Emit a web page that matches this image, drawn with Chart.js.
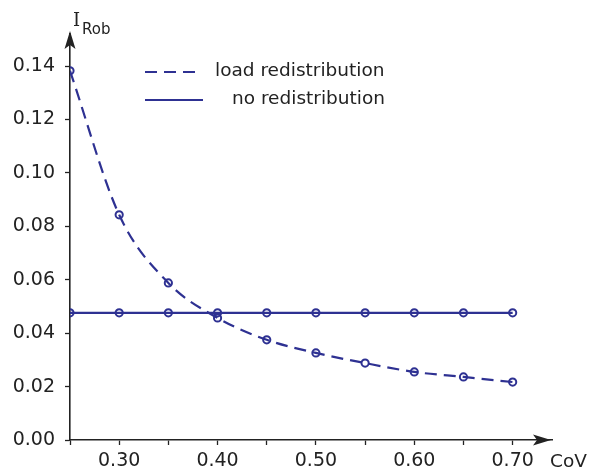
<!DOCTYPE html>
<html>
<head>
<meta charset="utf-8">
<script src="https://cdn.jsdelivr.net/npm/chart.js@4.4.1/dist/chart.umd.min.js"></script>
<style>
  html, body { margin: 0; padding: 0; background: #fff; }
  #wrap { width: 589px; height: 470px; position: relative; }
</style>
</head>
<body>
<div id="wrap"><canvas id="robChart"></canvas></div>
<script>
const covValues = [0.25, 0.30, 0.35, 0.40, 0.45, 0.50, 0.55, 0.60, 0.65, 0.70];
const loadRedistribution = [0.1382, 0.0843, 0.0588, 0.0457, 0.0375, 0.0326, 0.0288, 0.0255, 0.0236, 0.0217];
const noRedistribution = [0.0476, 0.0476, 0.0476, 0.0476, 0.0476, 0.0476, 0.0476, 0.0476, 0.0476, 0.0476];
const seriesLabels = ["load redistribution", "no redistribution"];
const xTicks = [0.25, 0.30, 0.35, 0.40, 0.45, 0.50, 0.55, 0.60, 0.65, 0.70];
const xLabelled = [0.30, 0.40, 0.50, 0.60, 0.70];
const yTicks = [0.00, 0.02, 0.04, 0.06, 0.08, 0.10, 0.12, 0.14];

const navy = "#2e3192";
const ink = "#222222";
const sans = "'DejaVu Sans', Verdana, sans-serif";

function toPoints(xs, ys) {
    return xs.map((x, i) => ({ x: x, y: ys[i] }));
}

// arrows, axis names and the legend
const decorPlugin = {
    id: "decor",
    afterDraw(chart) {
        const ctx = chart.ctx;
        const area = chart.chartArea;
        const x0 = area.left;
        const y0 = area.bottom;

        ctx.save();
        ctx.fillStyle = ink;

        // y arrow
        ctx.beginPath();
        ctx.moveTo(x0, 31);
        ctx.lineTo(x0 + 5.5, 49);
        ctx.lineTo(x0, 45);
        ctx.lineTo(x0 - 5.5, 49);
        ctx.closePath();
        ctx.fill();

        // x arrow
        ctx.beginPath();
        ctx.moveTo(551, y0);
        ctx.lineTo(533, y0 - 5.5);
        ctx.lineTo(537, y0);
        ctx.lineTo(533, y0 + 5.5);
        ctx.closePath();
        ctx.fill();

        // axis names
        ctx.textBaseline = "alphabetic";
        ctx.textAlign = "left";
        ctx.font = "18px 'DejaVu Serif', serif";
        ctx.fillText("I", 73, 26);
        ctx.font = "15px " + sans;
        ctx.fillText("Rob", 82, 34);
        ctx.font = "18.5px " + sans;
        ctx.fillText("CoV", 550, 467);

        // legend
        const rows = [
            { y: 72, lineEnd: 200, textX: 215, ds: chart.data.datasets[0] },
            { y: 100, lineEnd: 203, textX: 232, ds: chart.data.datasets[1] }
        ];
        rows.forEach(r => {
            ctx.strokeStyle = r.ds.borderColor;
            ctx.lineWidth = r.ds.borderWidth;
            ctx.setLineDash(r.ds.borderDash || []);
            ctx.beginPath();
            ctx.moveTo(145, r.y);
            ctx.lineTo(r.lineEnd, r.y);
            ctx.stroke();
            ctx.setLineDash([]);
            ctx.fillStyle = ink;
            ctx.font = "18.5px " + sans;
            ctx.textBaseline = "middle";
            ctx.fillText(r.ds.label, r.textX, r.y - 1);
        });
        ctx.restore();
    }
};

const ctx = document.getElementById("robChart").getContext("2d");

new Chart(ctx, {
    type: "line",
    data: {
        datasets: [
            {
                label: seriesLabels[0],
                data: toPoints(covValues, loadRedistribution),
                borderColor: navy,
                borderWidth: 2.2,
                borderDash: [12, 7],
                cubicInterpolationMode: "monotone",
                pointRadius: 3.6,
                pointBorderWidth: 2,
                pointBorderColor: navy,
                pointBackgroundColor: "rgba(0,0,0,0)",
                fill: false
            },
            {
                label: seriesLabels[1],
                data: toPoints(covValues, noRedistribution),
                borderColor: navy,
                borderWidth: 2.2,
                pointRadius: 3.6,
                pointBorderWidth: 2,
                pointBorderColor: navy,
                pointBackgroundColor: "rgba(0,0,0,0)",
                fill: false
            }
        ]
    },
    options: {
        responsive: true,
        maintainAspectRatio: false,
        animation: false,
        layout: { padding: { top: 34, right: 37, left: 0, bottom: 0 } },
        plugins: {
            legend: { display: false },
            tooltip: { enabled: false }
        },
        scales: {
            x: {
                type: "linear",
                min: 0.25,
                max: 0.74,
                afterBuildTicks: scale => {
                    scale.ticks = xTicks.map(v => ({ value: v }));
                },
                afterFit: scale => { scale.height = 30; },
                grid: {
                    drawOnChartArea: false,
                    drawTicks: true,
                    tickLength: 5,
                    tickWidth: 1.3,
                    tickColor: ink
                },
                border: { display: true, color: ink, width: 1.6 },
                ticks: {
                    autoSkip: false,
                    maxRotation: 0,
                    padding: 5,
                    color: ink,
                    font: { family: sans, size: 19 },
                    callback: v => xLabelled.some(l => Math.abs(l - v) < 1e-6) ? v.toFixed(2) : ""
                }
            },
            y: {
                type: "linear",
                min: 0,
                max: 0.152,
                afterBuildTicks: scale => {
                    scale.ticks = yTicks.map(v => ({ value: v }));
                },
                afterFit: scale => { scale.width = 70; },
                grid: {
                    drawOnChartArea: false,
                    drawTicks: true,
                    tickLength: 5,
                    tickWidth: 1.3,
                    tickColor: ink
                },
                border: { display: true, color: ink, width: 1.6 },
                ticks: {
                    autoSkip: false,
                    padding: 10,
                    color: ink,
                    font: { family: sans, size: 19 },
                    callback: v => v.toFixed(2)
                }
            }
        }
    },
    plugins: [decorPlugin]
});
</script>
</body>
</html>
